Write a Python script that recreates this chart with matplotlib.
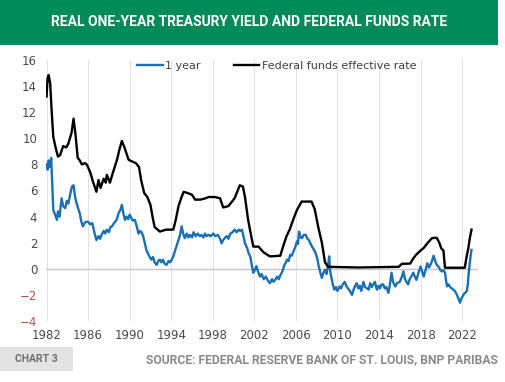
import matplotlib
matplotlib.use("Agg")
import matplotlib.pyplot as plt
from matplotlib.patches import Rectangle

# federal funds effective rate (black)
ff_t = [1982.0, 1982.1, 1982.2, 1982.35, 1982.5, 1982.65, 1982.9, 1983.1, 1983.3, 1983.6,
        1983.9, 1984.1, 1984.4, 1984.6, 1984.8, 1985.0, 1985.2, 1985.4, 1985.7, 1985.9,
        1986.2, 1986.5, 1986.8, 1987.0, 1987.2, 1987.5, 1987.7, 1987.8, 1988.1, 1988.4,
        1988.8, 1989.0, 1989.25, 1989.5, 1989.9, 1990.3, 1990.6, 1990.9, 1991.1, 1991.4,
        1991.7, 1992.0, 1992.2, 1992.4, 1992.7, 1992.9, 1993.5, 1994.2, 1994.45, 1994.7,
        1995.0, 1995.2, 1995.6, 1996.0, 1996.3, 1996.8, 1997.3, 1997.6, 1998.2, 1998.7,
        1999.0, 1999.5, 1999.8, 2000.1, 2000.4, 2000.6, 2000.9, 2001.1, 2001.4, 2001.7,
        2001.9, 2002.4, 2002.9, 2003.5, 2004.5, 2004.8, 2005.1, 2005.4, 2005.8, 2006.1,
        2006.55, 2007.5, 2007.8, 2008.15, 2008.5, 2008.8, 2009.1, 2012.0, 2015.9, 2016.2,
        2017.0, 2017.3, 2017.6, 2018.0, 2018.3, 2018.7, 2019.1, 2019.55, 2019.8, 2020.0,
        2020.2, 2020.35, 2022.25, 2022.4, 2022.6, 2022.75, 2022.9]
ff_v = [13.2, 14.6, 14.85, 14.2, 12.0, 10.1, 9.2, 8.6, 8.7, 9.4,
        9.3, 9.6, 10.4, 11.5, 10.2, 8.5, 8.3, 8.0, 8.1, 7.96,
        7.4, 6.6, 5.9, 6.8, 6.2, 6.9, 6.6, 7.2, 6.6, 7.4,
        8.4, 9.1, 9.8, 9.3, 8.35, 8.2, 8.1, 7.8, 6.8, 5.8,
        5.5, 4.9, 4.0, 3.2, 3.0, 2.85, 3.0, 3.0, 3.8, 4.8,
        5.5, 5.9, 5.8, 5.67, 5.3, 5.3, 5.4, 5.5, 5.5, 5.4,
        4.7, 4.8, 5.1, 5.4, 6.0, 6.4, 6.3, 5.5, 3.75, 2.5,
        1.7, 1.7, 1.25, 0.95, 1.0, 1.8, 2.5, 3.0, 3.9, 4.5,
        5.15, 5.15, 4.6, 3.2, 2.0, 0.5, 0.15, 0.1, 0.15, 0.38,
        0.4, 0.8, 1.1, 1.4, 1.6, 2.0, 2.35, 2.38, 2.0, 1.55,
        1.4, 0.08, 0.08, 0.8, 1.6, 2.4, 3.0]

# real one-year treasury yield (blue)
y1_t = [1982.0, 1982.1, 1982.2, 1982.3, 1982.45, 1982.55, 1982.65, 1982.8, 1983.0, 1983.1,
        1983.25, 1983.45, 1983.6, 1983.8, 1983.95, 1984.1, 1984.3, 1984.45, 1984.6, 1984.75,
        1984.9, 1985.05, 1985.2, 1985.35, 1985.5, 1985.65, 1985.8, 1986.0, 1986.2, 1986.4,
        1986.6, 1986.8, 1987.0, 1987.15, 1987.3, 1987.5, 1987.65, 1987.8, 1988.0, 1988.15,
        1988.3, 1988.5, 1988.75, 1988.95, 1989.1, 1989.25, 1989.4, 1989.55, 1989.7, 1989.85,
        1990.0, 1990.15, 1990.3, 1990.5, 1990.7, 1990.85, 1991.0, 1991.15, 1991.3, 1991.45,
        1991.6, 1991.8, 1992.0, 1992.1, 1992.25, 1992.4, 1992.6, 1992.75, 1992.9, 1993.05,
        1993.2, 1993.35, 1993.55, 1993.75, 1993.9, 1994.05, 1994.2, 1994.45, 1994.7, 1994.85,
        1995.0, 1995.15, 1995.3, 1995.5, 1995.65, 1995.8, 1996.0, 1996.15, 1996.35, 1996.55,
        1996.75, 1996.9, 1997.1, 1997.25, 1997.4, 1997.6, 1997.8, 1998.05, 1998.25, 1998.5,
        1998.7, 1998.85, 1999.0, 1999.2, 1999.35, 1999.5, 1999.7, 1999.9, 2000.1, 2000.3,
        2000.5, 2000.65, 2000.8, 2000.95, 2001.1, 2001.3, 2001.45, 2001.6, 2001.75, 2001.9,
        2002.05, 2002.2, 2002.35, 2002.55, 2002.7, 2002.9, 2003.1, 2003.3, 2003.5, 2003.7,
        2003.85, 2004.0, 2004.2, 2004.35, 2004.5, 2004.7, 2004.85, 2005.0, 2005.15, 2005.3,
        2005.45, 2005.6, 2005.8, 2005.95, 2006.1, 2006.2, 2006.3, 2006.45, 2006.6, 2006.75,
        2006.95, 2007.1, 2007.25, 2007.4, 2007.55, 2007.7, 2007.9, 2008.05, 2008.2, 2008.35,
        2008.5, 2008.65, 2008.8, 2008.95, 2009.1, 2009.2, 2009.3, 2009.4, 2009.55, 2009.7,
        2009.85, 2010.0, 2010.2, 2010.35, 2010.5, 2010.7, 2010.85, 2011.0, 2011.2, 2011.4,
        2011.55, 2011.7, 2011.85, 2012.0, 2012.15, 2012.3, 2012.5, 2012.65, 2012.85, 2013.0,
        2013.15, 2013.3, 2013.45, 2013.6, 2013.8, 2013.95, 2014.1, 2014.25, 2014.4, 2014.55,
        2014.7, 2014.9, 2015.05, 2015.2, 2015.35, 2015.55, 2015.75, 2016.0, 2016.2, 2016.35,
        2016.5, 2016.65, 2016.8, 2016.95, 2017.1, 2017.3, 2017.45, 2017.6, 2017.8, 2018.0,
        2018.15, 2018.3, 2018.5, 2018.65, 2018.8, 2018.95, 2019.1, 2019.25, 2019.4, 2019.55,
        2019.7, 2019.9, 2020.05, 2020.2, 2020.35, 2020.45, 2020.55, 2020.7, 2020.85, 2021.0,
        2021.15, 2021.3, 2021.5, 2021.65, 2021.8, 2021.9, 2022.05, 2022.2, 2022.35, 2022.45,
        2022.55, 2022.6, 2022.7, 2022.8, 2022.9]
y1_v = [8.0, 7.6, 8.3, 7.8, 8.5, 6.5, 4.5, 4.2, 3.75, 4.4,
        4.0, 5.4, 4.8, 4.65, 5.2, 5.0, 5.8, 6.3, 6.4, 5.5,
        5.0, 4.6, 4.25, 3.6, 3.25, 3.5, 3.6, 3.6, 3.4, 3.5,
        2.8, 2.2, 2.5, 2.3, 2.6, 2.9, 2.7, 3.0, 2.8, 3.2,
        3.25, 3.5, 3.75, 4.3, 4.5, 4.9, 4.2, 3.75, 4.0, 3.8,
        4.15, 3.9, 3.7, 3.75, 3.2, 2.7, 2.9, 2.8, 2.5, 2.0,
        1.45, 1.1, 0.8, 0.7, 0.9, 0.5, 0.3, 0.6, 0.7, 0.5,
        0.7, 0.4, 0.3, 0.6, 0.5, 0.7, 0.95, 1.6, 2.2, 2.6,
        3.25, 2.7, 2.35, 2.7, 2.4, 2.6, 2.4, 2.8, 2.5, 2.7,
        2.5, 2.6, 2.4, 2.7, 2.5, 2.6, 2.5, 2.7, 2.5, 2.6,
        2.3, 1.95, 2.2, 2.4, 2.5, 2.3, 2.7, 2.8, 3.0, 2.8,
        3.0, 2.9, 3.0, 2.5, 1.95, 1.6, 1.2, 0.95, 0.3, -0.3,
        -0.1, 0.2, -0.2, -0.6, -0.4, -0.8, -0.6, -0.9, -1.1, -0.8,
        -1.0, -0.85, -0.6, -0.8, -0.5, -0.2, 0.2, 0.43, 0.7, 0.6,
        1.07, 1.0, 1.4, 1.7, 2.1, 1.9, 2.85, 2.4, 2.35, 2.6,
        2.6, 2.3, 2.2, 1.95, 1.7, 1.5, 1.2, 0.8, 0.18, -0.3,
        -0.7, -0.3, -0.08, -0.4, 0.3, 0.95, -0.2, -0.6, -1.2, -1.6,
        -1.4, -1.7, -1.35, -1.5, -1.2, -1.0, -1.3, -1.5, -1.7, -2.0,
        -1.6, -1.3, -1.1, -1.5, -1.3, -1.7, -1.0, -1.4, -1.5, -1.6,
        -1.1, -1.4, -1.2, -1.0, -1.6, -1.3, -1.5, -1.2, -1.2, -1.5,
        -1.4, -1.85, -1.2, -0.3, -1.0, -1.35, -1.1, -1.0, -0.6, -0.2,
        -0.8, -1.0, -1.2, -0.8, -0.6, -0.3, -0.6, -0.85, -0.3, 0.18,
        -0.2, -0.6, 0.0, 0.43, 0.1, 0.3, 0.6, 1.0, 0.6, 0.3,
        0.2, -0.1, -0.2, -0.1, -0.3, -0.9, -1.35, -1.2, -1.4, -1.5,
        -1.6, -1.7, -2.0, -2.3, -2.6, -2.3, -2.1, -1.9, -1.8, -1.7,
        -1.2, -0.6, 0.2, 0.9, 1.45]

x_ticks = list(range(1982, 2023, 4))
y_ticks = list(range(-4, 17, 2))

fig = plt.figure(figsize=(5.05, 3.82), dpi=100)
fig.patch.set_facecolor("white")

# green title band
fig.patches.append(Rectangle((0, 1 - 45 / 382), 498 / 505, 45 / 382, transform=fig.transFigure,
                             facecolor="#008c5a", edgecolor="none", zorder=0))
fig.text(249 / 505, 1 - 22 / 382, "REAL ONE-YEAR TREASURY YIELD AND FEDERAL FUNDS RATE",
         ha="center", va="center", color="white", fontsize=10, fontweight="bold",
         family="Roboto")

ax = fig.add_axes([0.0901, 0.1597, 0.8559, 0.6833])
ax.plot(y1_t, y1_v, color="#1a6fb5", lw=1.7, label="1 year", zorder=3)
ax.plot(ff_t, ff_v, color="black", lw=1.7, label="Federal funds effective rate", zorder=4)

ax.set_xlim(1981.9, 2023.5)
ax.set_ylim(-4, 16)
ax.set_xticks(x_ticks)
ax.set_yticks(y_ticks)
for x in x_ticks:
    ax.axvline(x, color="#e3e3e3", lw=0.8, zorder=1)
ax.axhline(0, color="#c8c8c8", lw=1.0, zorder=2)
for s in ax.spines.values():
    s.set_visible(False)
ax.tick_params(length=0, labelsize=8.5, colors="#4a4a4a", pad=6)
for lab, v in zip(ax.get_yticklabels(), y_ticks):
    if v < 0:
        lab.set_color("#c0504d")

leg = ax.legend(loc="upper center", bbox_to_anchor=(0.535, 1.035), ncol=2, frameon=False,
                fontsize=8, handlelength=2.3, handletextpad=0.2, columnspacing=3.0)
for t in leg.get_texts():
    t.set_color("#404040")

# footer
fig.patches.append(Rectangle((0, 1 - 371 / 382), 73 / 505, 24 / 382, transform=fig.transFigure,
                             facecolor="#e3e3e3", edgecolor="none"))
fig.text(36 / 505, 1 - 359 / 382, "CHART 3", ha="center", va="center", color="#6e6e6e",
         fontsize=7.5, fontweight="bold", family="Roboto")
fig.text(498 / 505, 1 - 360 / 382, "SOURCE: FEDERAL RESERVE BANK OF ST. LOUIS, BNP PARIBAS",
         ha="right", va="center", color="#8a8a8a", fontsize=8.7, fontweight="bold",
         family="Roboto")

fig.savefig("out.png", dpi=100)
